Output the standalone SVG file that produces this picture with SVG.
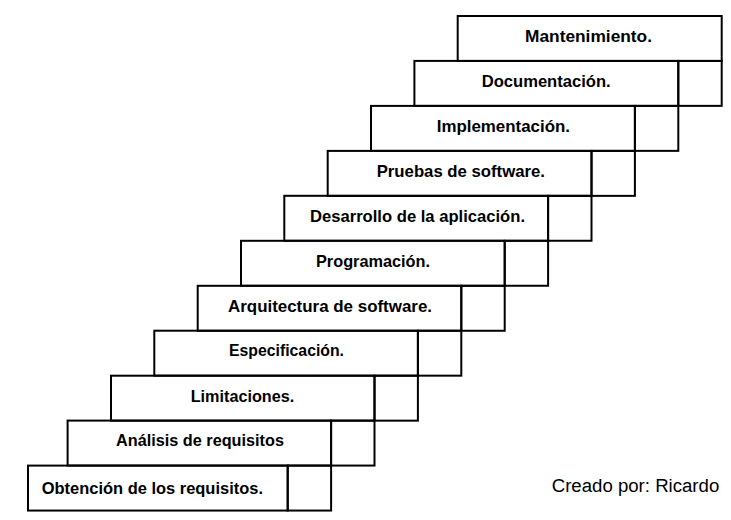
<svg xmlns="http://www.w3.org/2000/svg" width="731" height="520" viewBox="0 0 731 520">
<style>
  rect { fill: none; stroke: #000; stroke-width: 2; }
  .t { font-family: "Liberation Sans", Arial, sans-serif; font-weight: bold; font-size: 17px; fill: #000; }
  .c { font-family: "Liberation Sans", Arial, sans-serif; font-size: 18px; fill: #000; }
</style>
<rect x="0" y="0" width="731" height="520" style="fill:#fff;stroke:none"/>
<g id="connectors"></g>
<g id="n0">
  <rect x="28" y="465.6" width="259.7" height="44.96"/>
  <rect x="287.7" y="465.6" width="43.4" height="44.96"/>
  <text class="t" x="41.7" y="494" textLength="221.3" lengthAdjust="spacingAndGlyphs">Obtención de los requisitos.</text>
</g>
<g id="n1">
  <rect x="67.6" y="420.6" width="263.5" height="44.96"/>
  <rect x="331.1" y="420.6" width="43.4" height="44.96"/>
  <text class="t" x="116" y="446.3" textLength="168" lengthAdjust="spacingAndGlyphs">Análisis de requisitos</text>
</g>
<g id="n2">
  <rect x="111" y="375.7" width="263.5" height="44.96"/>
  <rect x="374.5" y="375.7" width="43.4" height="44.96"/>
  <text class="t" x="190.7" y="401.5" textLength="103.6" lengthAdjust="spacingAndGlyphs">Limitaciones.</text>
</g>
<g id="n3">
  <rect x="154.3" y="330.7" width="263.6" height="44.96"/>
  <rect x="417.9" y="330.7" width="43.4" height="44.96"/>
  <text class="t" x="229" y="356.4" textLength="115" lengthAdjust="spacingAndGlyphs">Especificación.</text>
</g>
<g id="n4">
  <rect x="197.7" y="285.8" width="263.6" height="44.96"/>
  <rect x="461.3" y="285.8" width="43.4" height="44.96"/>
  <text class="t" x="228" y="311.5" textLength="204" lengthAdjust="spacingAndGlyphs">Arquitectura de software.</text>
</g>
<g id="n5">
  <rect x="241" y="240.8" width="263.7" height="44.96"/>
  <rect x="504.7" y="240.8" width="43.4" height="44.96"/>
  <text class="t" x="316" y="266.5" textLength="114" lengthAdjust="spacingAndGlyphs">Programación.</text>
</g>
<g id="n6">
  <rect x="284.3" y="195.8" width="263.8" height="44.96"/>
  <rect x="548.1" y="195.8" width="43.4" height="44.96"/>
  <text class="t" x="310" y="221.5" textLength="215" lengthAdjust="spacingAndGlyphs">Desarrollo de la aplicación.</text>
</g>
<g id="n7">
  <rect x="327.7" y="150.9" width="263.8" height="44.96"/>
  <rect x="591.5" y="150.9" width="43.4" height="44.96"/>
  <text class="t" x="376.7" y="176.6" textLength="168.3" lengthAdjust="spacingAndGlyphs">Pruebas de software.</text>
</g>
<g id="n8">
  <rect x="371" y="105.9" width="263.9" height="44.96"/>
  <rect x="634.9" y="105.9" width="43.4" height="44.96"/>
  <text class="t" x="436.7" y="131.6" textLength="133.3" lengthAdjust="spacingAndGlyphs">Implementación.</text>
</g>
<g id="n9">
  <rect x="414.4" y="60.9" width="263.9" height="44.96"/>
  <rect x="678.3" y="60.9" width="43.4" height="44.96"/>
  <text class="t" x="481.7" y="86.6" textLength="129" lengthAdjust="spacingAndGlyphs">Documentación.</text>
</g>
<g id="n10">
  <rect x="457.7" y="16" width="264" height="44.96"/>
  <text class="t" x="525" y="41.7" textLength="127" lengthAdjust="spacingAndGlyphs">Mantenimiento.</text>
</g>
<g id="credit">
  <text class="c" x="551.7" y="491.7" textLength="167.6" lengthAdjust="spacingAndGlyphs">Creado por: Ricardo</text>
</g>
</svg>
